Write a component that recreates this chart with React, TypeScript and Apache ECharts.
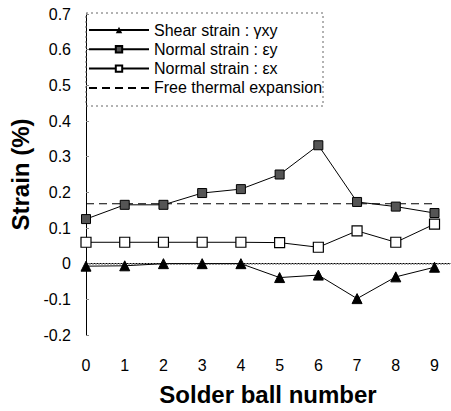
import React, { useEffect, useRef } from "react";
import * as echarts from "echarts";

const ballNumbers = [0, 1, 2, 3, 4, 5, 6, 7, 8, 9];
const shearStrain = [-0.007, -0.006, 0.0, 0.0, 0.0, -0.039, -0.032, -0.098, -0.037, -0.01];
const normalStrainY = [0.125, 0.165, 0.165, 0.198, 0.209, 0.25, 0.332, 0.173, 0.16, 0.142];
const normalStrainX = [0.06, 0.06, 0.06, 0.06, 0.06, 0.059, 0.046, 0.092, 0.06, 0.111];
const freeThermalX = [0, 9];
const freeThermal = [0.168, 0.168];
const yTicks = { min: -0.2, max: 0.7, interval: 0.1 };

const FONT = "'Liberation Sans', Arial, sans-serif";

export default function App() {
  const ref = useRef<HTMLDivElement>(null);
  useEffect(() => {
    if (!ref.current) return;
    const chart = echarts.init(ref.current, undefined, { renderer: "svg" });
    const pairs = (ys: number[], xs: number[] = ballNumbers) => xs.map((x, i) => [x, ys[i]]);
    chart.setOption({
      animation: false,
      textStyle: { fontFamily: FONT, color: "#000" },
      grid: { left: 86, top: 14, right: 1, bottom: 74 },
      graphic: [
        {
          type: "rect",
          shape: { x: 86, y: 13, width: 237, height: 93 },
          style: { fill: "none", stroke: "#666", lineWidth: 1, lineDash: [2, 3] },
          z: 10,
        },
      ],
      legend: {
        orient: "vertical",
        left: 88,
        top: 22,
        itemWidth: 60,
        itemHeight: 8,
        itemGap: 3.3,
        padding: 0,
        textStyle: { fontFamily: FONT, fontSize: 16, color: "#000", lineHeight: 16 },
        data: [
          "Shear strain : γxy",
          "Normal strain : εy",
          "Normal strain : εx",
          "Free thermal expansion",
        ],
      },
      xAxis: {
        type: "value",
        min: 0,
        max: 9.4,
        interval: 1,
        name: "Solder ball number",
        nameLocation: "middle",
        nameGap: 47,
        nameTextStyle: { fontFamily: FONT, fontSize: 24, fontWeight: "bold", color: "#000" },
        axisLine: { show: true, lineStyle: { color: "#000", width: 1 } },
        axisTick: { show: false },
        splitLine: { show: false },
        axisLabel: {
          fontFamily: FONT,
          fontSize: 16,
          color: "#000",
          margin: 22,
          showMaxLabel: false,
          formatter: (v: number) => (Number.isInteger(v) ? String(v) : ""),
        },
      },
      yAxis: {
        type: "value",
        min: yTicks.min,
        max: yTicks.max,
        interval: yTicks.interval,
        name: "Strain (%)",
        nameLocation: "middle",
        nameGap: 38,
        nameRotate: 90,
        nameTextStyle: { fontFamily: FONT, fontSize: 24, fontWeight: "bold", color: "#000" },
        axisLine: { show: true, lineStyle: { color: "#000", width: 1 } },
        axisTick: { show: true, inside: true, length: 3, lineStyle: { color: "#888" } },
        splitLine: { show: false },
        axisLabel: { fontFamily: FONT, fontSize: 16, color: "#000", margin: 15 },
      },
      series: [
        {
          name: "Shear strain : γxy",
          type: "line",
          data: pairs(shearStrain),
          symbol: "triangle",
          symbolSize: 10,
          lineStyle: { color: "#000", width: 1 },
          itemStyle: { color: "#000", borderColor: "#000" },
          markLine: {
            silent: true,
            symbol: "none",
            label: { show: false },
            lineStyle: { color: "#999", type: [2, 1], width: 1.5 },
            data: [{ yAxis: 0 }],
          },
          z: 5,
        },
        {
          name: "Normal strain : εy",
          type: "line",
          data: pairs(normalStrainY),
          symbol: "rect",
          symbolSize: 9,
          lineStyle: { color: "#000", width: 1 },
          itemStyle: { color: "#555", borderColor: "#000", borderWidth: 1 },
          z: 5,
        },
        {
          name: "Normal strain : εx",
          type: "line",
          data: pairs(normalStrainX),
          symbol: "rect",
          symbolSize: 10,
          lineStyle: { color: "#000", width: 1 },
          itemStyle: { color: "#fff", borderColor: "#000", borderWidth: 1.2 },
          z: 5,
        },
        {
          name: "Free thermal expansion",
          type: "line",
          data: pairs(freeThermal, freeThermalX),
          symbol: "none",
          lineStyle: { color: "#000", width: 1.2, type: [8, 5] },
          itemStyle: { color: "rgba(0,0,0,0)", borderColor: "rgba(0,0,0,0)" },
          z: 4,
        },
      ],
    });
    return () => chart.dispose();
  }, []);
  return <div ref={ref} style={{ width: 451, height: 411, position: "absolute", left: 0, top: 0 }} />;
}
